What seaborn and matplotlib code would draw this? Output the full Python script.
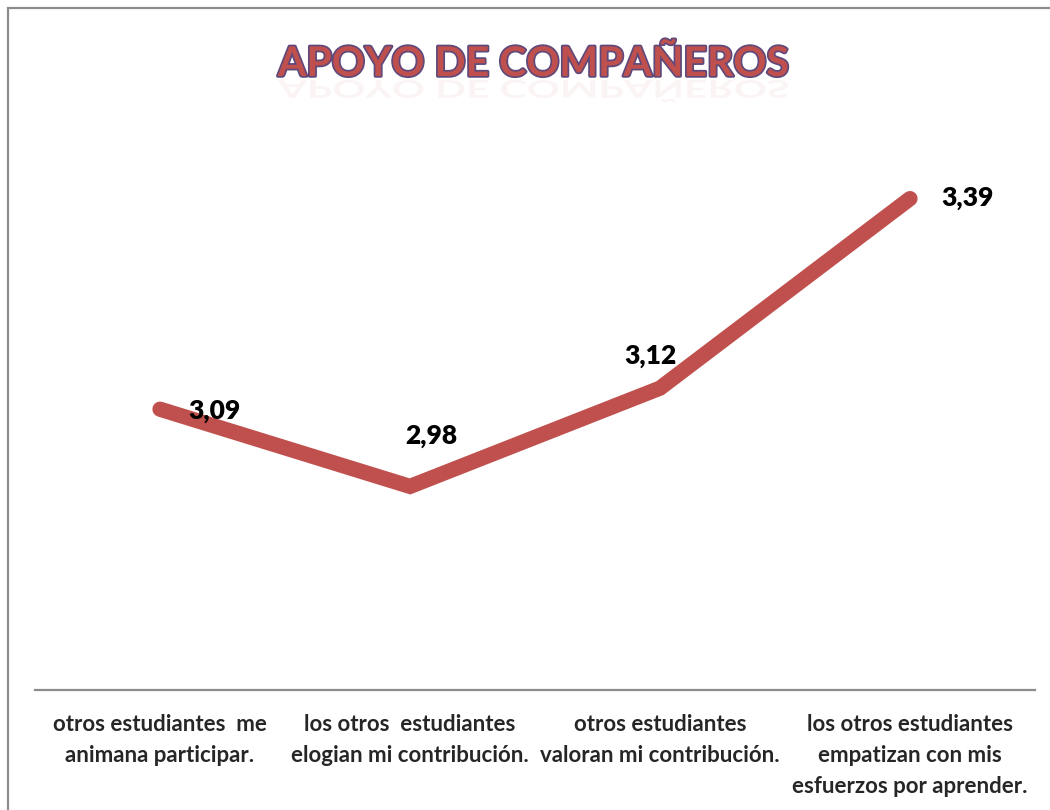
import matplotlib
matplotlib.use("Agg")
import matplotlib.pyplot as plt
import seaborn as sns
import pandas as pd
from matplotlib.textpath import TextPath
from matplotlib.font_manager import FontProperties
from matplotlib.patches import PathPatch, Rectangle
from matplotlib.transforms import Affine2D
import matplotlib.patheffects as pe

categories = [
    "otros estudiantes  me\nanimana participar.",
    "los otros  estudiantes\nelogian mi contribución.",
    "otros estudiantes\nvaloran mi contribución.",
    "los otros estudiantes\nempatizan con mis\nesfuerzos por aprender.",
]
values = [3.09, 2.98, 3.12, 3.39]
value_labels = ["3,09", "2,98", "3,12", "3,39"]
title = "APOYO DE COMPAÑEROS"

sns.set_theme(style="white")
plt.rcParams['font.family'] = ['Lato', 'DejaVu Sans']

W, H, DPI = 1050, 810, 100
fig = plt.figure(figsize=(W / DPI, H / DPI), dpi=DPI)
fig.patch.set_facecolor("white")

# outer chart border
fig.patches.append(Rectangle((8 / W, -0.05), 1.2, 1 - 8 / H + 0.05,
                             transform=fig.transFigure, fill=False,
                             edgecolor="#8c8c8c", linewidth=1.6, zorder=0))

ax = fig.add_axes([35 / W, 120 / H, 1000 / W, 570 / H])
df = pd.DataFrame({"pos": range(len(values)), "val": values})
sns.lineplot(data=df, x="pos", y="val", ax=ax, color="#C0504D",
             linewidth=11, sort=False, solid_capstyle="round",
             solid_joinstyle="miter", legend=False)

ax.set_xlim(-0.5, len(values) - 0.5)
ax.set_ylim(2.69, 2.69 + 570 / 702)
ax.set_xticks(range(len(values)))
ax.set_xticklabels(categories, fontsize=16, fontweight="bold",
                   family=['Lato', 'DejaVu Sans'], linespacing=1.6)
ax.tick_params(axis="x", length=0, pad=17)
ax.set_yticks([])
ax.set_xlabel("")
ax.set_ylabel("")
for s in ["top", "left", "right"]:
    ax.spines[s].set_visible(False)
ax.spines["bottom"].set_color("#8c8c8c")
ax.spines["bottom"].set_linewidth(1.6)
ax.set_facecolor("none")

offsets = [(54, -2), (21, 50), (-10, 32), (58, 1)]
for i, (v, lab) in enumerate(zip(values, value_labels)):
    ax.annotate(lab, (i, v), xytext=offsets[i], textcoords="offset pixels",
                ha="center", va="center", fontsize=19, fontweight="heavy",
                color="black", family=['Lato', 'DejaVu Sans'])

# title with outline
tx, tbase = 533, 76
fig.text(tx / W, 1 - tbase / H, title, ha="center", va="baseline",
         fontsize=29.5, fontweight="bold", color="#C0504D",
         family=['Lato', 'DejaVu Sans'],
         path_effects=[pe.withStroke(linewidth=2.5, foreground="#5F497A")])

# faint reflection below the title
fp = FontProperties(family=['Lato', 'DejaVu Sans'], weight="bold")
tp = TextPath((0, 0), title, size=29.5 * DPI / 72, prop=fp)
ext = tp.get_extents()
cx = (ext.x0 + ext.x1) / 2
trans = Affine2D().translate(-cx, 0).scale(1, -0.6).translate(tx, H - tbase - 4)
refl = PathPatch(trans.transform_path(tp), facecolor="#C0504D", edgecolor="none",
                 alpha=0.06, transform=None)
fig.patches.append(refl)

fig.savefig("out.png", dpi=DPI, facecolor="white")
